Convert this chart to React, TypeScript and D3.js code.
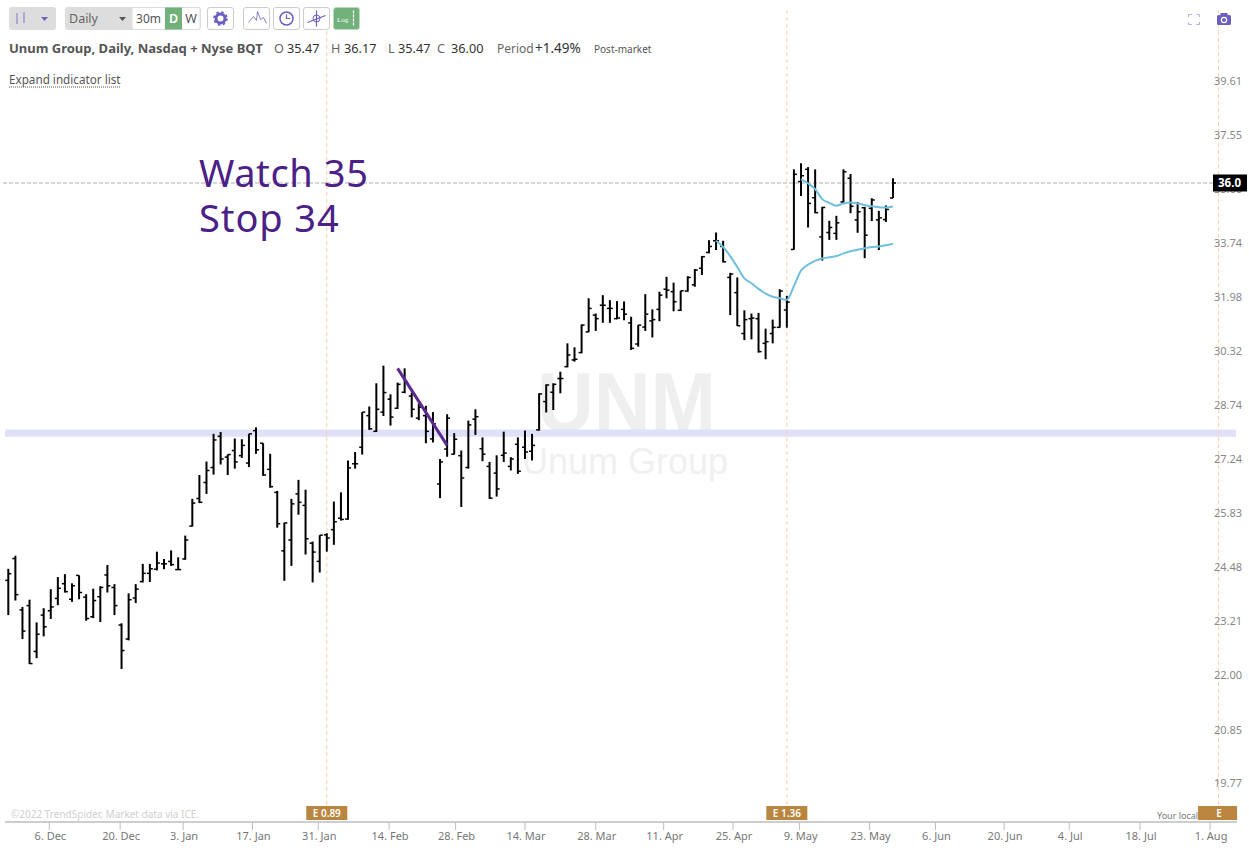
import React from "react";
import * as d3 from "d3";

const opens = [24.30,24.83,23.60,23.70,22.65,23.48,23.58,23.87,24.22,23.85,
24.42,23.90,23.44,23.91,24.43,24.13,23.25,22.93,23.88,24.27,
24.47,24.57,24.70,24.76,24.56,24.82,25.64,26.35,26.77,27.17,
28.02,27.45,27.63,27.49,27.29,28.18,27.83,27.12,26.51,25.02,
25.29,26.47,26.17,25.21,24.76,25.42,25.55,25.84,25.82,27.27,
27.72,28.60,28.16,28.70,29.07,28.81,29.27,29.16,28.53,28.60,
27.95,26.73,27.67,27.53,27.49,27.17,28.50,27.68,27.20,27.02,
27.50,27.20,27.80,27.72,27.61,28.20,29.00,29.27,29.67,30.02,
30.22,30.44,31.07,31.59,31.90,31.80,31.48,31.77,31.35,30.70,
31.22,31.41,31.77,32.41,32.33,31.74,32.35,32.55,33.09,33.61,
34.00,33.81,32.79,32.30,31.02,31.48,31.48,30.72,31.02,31.21,
31.75,33.71,36.05,36.49,35.48,34.13,34.28,34.25,35.33,36.17,
34.71,35.13,35.11,34.71,34.72,35.47];
const highs = [24.58,24.90,23.67,23.84,23.31,23.64,24.09,24.38,24.45,24.23,
24.42,23.97,24.10,24.16,24.67,24.21,23.29,23.99,24.21,24.70,
24.70,25.00,24.82,25.03,24.86,25.40,26.34,26.97,27.33,28.09,
28.14,27.52,27.96,27.94,28.09,28.27,27.83,27.54,26.55,25.73,
26.34,26.84,26.58,25.25,25.41,25.46,26.27,26.51,27.36,27.59,
28.70,28.86,29.53,30.05,29.21,29.55,29.97,29.26,28.95,28.88,
28.70,27.40,28.64,28.11,27.63,28.46,28.78,27.99,27.32,27.50,
28.15,27.45,27.99,28.18,28.09,29.24,29.50,29.53,29.87,30.72,
30.60,31.30,32.12,31.64,32.22,32.06,32.03,32.02,31.54,31.28,
32.25,31.77,32.33,32.81,32.62,32.36,32.83,33.06,33.49,34.02,
34.28,34.00,32.94,32.79,31.74,31.64,31.66,31.17,31.45,32.41,
32.20,36.49,36.71,36.57,36.49,35.16,34.68,34.85,36.49,36.32,
35.33,35.16,35.46,35.02,35.21,36.17];
const lows = [23.48,23.82,22.93,22.37,22.50,22.99,23.39,23.71,24.01,23.79,
23.85,23.35,23.41,23.32,24.01,23.48,22.26,22.90,23.76,24.25,
24.26,24.54,24.57,24.65,24.55,24.80,25.63,26.23,26.47,26.98,
27.25,26.97,27.14,27.43,27.18,27.54,26.95,26.63,25.60,24.29,
24.65,25.93,24.93,24.25,24.49,25.00,25.17,25.78,25.80,27.14,
27.52,28.20,28.14,28.59,28.32,28.79,29.24,28.55,28.47,27.83,
27.85,26.36,27.46,27.52,26.13,27.14,28.06,27.34,26.34,26.40,
27.32,27.09,27.00,27.40,27.36,28.18,28.69,28.76,29.24,30.00,
30.17,30.42,31.06,31.10,31.35,31.35,31.46,31.43,30.52,30.62,
31.10,30.90,31.40,32.12,31.71,31.72,32.33,32.49,32.87,33.58,
33.69,33.28,31.59,31.25,30.82,30.84,30.44,30.24,30.72,31.20,
31.20,33.70,35.54,34.45,34.94,33.34,34.03,34.03,35.31,34.94,
34.27,33.42,34.67,33.69,34.64,35.47];
const closes = [24.46,23.96,23.11,22.38,23.04,23.21,23.67,24.11,24.03,24.17,
24.01,23.40,23.82,24.13,24.17,23.70,22.67,23.84,24.09,24.47,
24.58,24.72,24.70,24.68,24.56,25.29,26.23,26.25,27.09,27.92,
27.40,27.52,27.32,27.77,28.09,27.65,26.97,26.66,25.70,25.72,
26.21,26.25,25.32,24.99,25.41,25.34,25.75,25.81,27.16,27.27,
28.70,28.23,28.78,29.26,28.56,29.50,29.58,28.78,28.84,28.16,
28.37,27.32,28.53,27.94,26.89,28.34,28.57,27.53,26.36,26.60,
27.56,27.40,27.07,27.59,27.77,29.22,29.48,29.50,29.67,30.37,
30.24,31.28,31.80,31.48,31.90,31.80,31.50,31.62,30.57,31.28,
31.62,31.45,32.22,32.38,32.01,32.36,32.79,33.03,33.47,33.81,
34.00,33.30,32.90,31.26,31.45,31.50,30.47,30.77,31.21,32.35,
32.00,36.31,36.26,35.28,34.96,35.14,34.45,34.61,36.40,35.18,
34.99,34.19,35.40,34.78,35.07,36.00];

const anchoredStart = 100;
const anchoredA = [34.00,33.79,33.49,33.13,32.76,32.60,32.42,32.27,32.17,32.12,32.07,32.51,33.01,33.21,33.33,33.41,33.45,33.49,33.58,33.65,33.70,33.75,33.79,33.81,33.85,33.90];
const anchoredBStart = 112;
const anchoredB = [36.13,35.99,35.78,35.43,35.30,35.20,35.28,35.31,35.28,35.22,35.18,35.15,35.14,35.17];

const trendBars = [55, 62];
const trendPrices = [29.97, 27.77];
const bandPrices = [28.21, 28.01];
const lastPrice = 36.0;

const priceTicks = [39.61,37.55,35.60,33.74,31.98,30.32,28.74,27.24,25.83,24.48,23.21,22.00,20.85,19.77];
const dateLabels = ["6. Dec","20. Dec","3. Jan","17. Jan","31. Jan","14. Feb","28. Feb","14. Mar","28. Mar","11. Apr","25. Apr","9. May","23. May","6. Jun","20. Jun","4. Jul","18. Jul","1. Aug"];
const dateBars = [5.8,15.8,24.7,34.5,43.8,53.8,63.2,73,83,92.6,102.4,111.8,121.7,131,140.7,149.9,159.9,169.8];
const earnings = [{ bar: 45, label: "E 0.89" }, { bar: 110, label: "E 1.36" }, { bar: 171, label: "E" }];

const FONT = "'Noto Sans', sans-serif";
const PURPLE = "#6a5fc1";
const GREEN = "#71b27a";

const x = d3.scaleLinear().domain([0, 125]).range([8.3, 893]);
const y = d3.scaleLog().domain([36, 22]).range([183, 183 + 1011 * Math.log(36 / 22)]);

const Btn = ({ bx, w, fill = "#fff", stroke = "#ccc", children }: any) => (
  <g transform={`translate(${bx},7.5)`}>
    <rect width={w} height={22} rx={2.5} fill={fill} stroke={stroke} />
    {children}
  </g>
);

export default function App() {
  const lineA = d3.line<number>().x((_, i) => x(anchoredStart + i)).y(d => y(d)).curve(d3.curveMonotoneX)(anchoredA)!;
  const lineB = d3.line<number>().x((_, i) => x(anchoredBStart + i)).y(d => y(d)).curve(d3.curveMonotoneX)(anchoredB)!;
  return (
    <svg width={1249} height={850} style={{ position: "absolute", left: 0, top: 0, background: "#fff", fontFamily: FONT }}>
      {/* watermark */}
      <text x={537} y={431} textLength={179} lengthAdjust="spacingAndGlyphs" fontFamily="'Liberation Sans', sans-serif" fontWeight={700} fontSize={84} fill="#efefef">UNM</text>
      <text x={625} y={474} textAnchor="middle" fontFamily="'Liberation Sans', sans-serif" fontSize={36} fill="#f0f0f0">Unum Group</text>

      {/* band */}
      <rect x={5} width={1231} y={y(bandPrices[0])} height={y(bandPrices[1]) - y(bandPrices[0])} fill="#e0e0fb" />

      {/* earnings verticals */}
      {earnings.map(e => (
        <line key={e.label} x1={x(e.bar)} x2={x(e.bar)} y1={10} y2={806} stroke="#fbd2a2" strokeDasharray="4 3" />
      ))}

      {/* last price line */}
      <line x1={3} x2={1213} y1={y(lastPrice)} y2={y(lastPrice)} stroke="#adadad" strokeDasharray="4 2" />

      {/* OHLC bars */}
      <g stroke="#000" fill="none">
        {highs.map((h, i) => (
          <g key={i}>
            <line x1={x(i)} x2={x(i)} y1={y(h)} y2={y(lows[i])} strokeWidth={2} />
            <line x1={x(i) - 3} x2={x(i)} y1={y(opens[i])} y2={y(opens[i])} strokeWidth={1.5} />
            <line x1={x(i)} x2={x(i) + 3} y1={y(closes[i])} y2={y(closes[i])} strokeWidth={1.5} />
          </g>
        ))}
      </g>

      {/* anchored lines */}
      <path d={lineA} fill="none" stroke="#6fc0de" strokeWidth={2} />
      <path d={lineB} fill="none" stroke="#6fc0de" strokeWidth={2} />

      {/* trend line */}
      <line x1={x(trendBars[0])} x2={x(trendBars[1])} y1={y(trendPrices[0])} y2={y(trendPrices[1])} stroke="#5b2a91" strokeWidth={3} />

      {/* annotation */}
      <text x={199} y={187} fontSize={38} letterSpacing={0.6} fill="#4b2087">Watch 35</text>
      <text x={199} y={232} fontSize={38} letterSpacing={0.9} fill="#4b2087">Stop 34</text>

      {/* price axis */}
      {priceTicks.map(t => (
        <text key={t} x={1214} y={y(t) - 5.4} dy="0.35em" fontSize={11} fill="#888">{t.toFixed(2)}</text>
      ))}
      <rect x={1213} y={y(lastPrice) - 8.5} width={34} height={17} fill="#000" />
      <text x={1229.5} y={y(lastPrice)} dy="0.35em" textAnchor="middle" fontSize={11.5} fontWeight={700} fill="#fff">{lastPrice.toFixed(1)}</text>

      {/* date axis */}
      <line x1={5} x2={1237} y1={822} y2={822} stroke="#bdbdbd" strokeWidth={1.5} />
      {dateLabels.map((d, i) => (
        <g key={d}>
          <line x1={x(dateBars[i])} x2={x(dateBars[i])} y1={822} y2={830} stroke="#bdbdbd" />
          <text x={x(dateBars[i]) + 1} y={836} dy="0.35em" textAnchor="middle" fontSize={11} fill="#777">{d}</text>
        </g>
      ))}
      <text x={11} y={818} fontSize={10} fill="#cfcfcf">©2022 TrendSpider, Market data via ICE.</text>
      <text x={1157} y={819} fontSize={9} fill="#777">Your local</text>
      {earnings.map(e => (
        <g key={e.label}>
          <rect x={x(e.bar) - 20.5} y={806} width={e.label === "E" ? 39 : 41} height={14} fill="#b9853f" />
          <text x={x(e.bar) + (e.label === "E" ? 0.5 : 0)} y={813} dy="0.35em" textAnchor="middle" fontSize={10} fontWeight={600} fill="#fff">{e.label}</text>
        </g>
      ))}

      {/* toolbar */}
      <rect x={9} y={7} width={47} height={23} rx={3} fill="#ddd" />
      <g stroke="#9d97cf" strokeWidth={1.5}>
        <line x1={17} x2={17} y1={13} y2={24} />
        <line x1={24} x2={24} y1={12} y2={23} />
      </g>
      <path d="M41,17 h7 l-3.5,4 z" fill={PURPLE} />
      <rect x={65} y={7} width={136} height={23} rx={3} fill="#ddd" />
      <rect x={132} y={7.5} width={68} height={22} rx={2} fill="#fff" stroke="#ddd" />
      <rect x={165} y={7.5} width={17} height={22} fill={GREEN} />
      <text x={69} y={23} fontSize={12.5} fill="#666">Daily</text>
      <path d="M119,17 h7 l-3.5,4 z" fill="#555" />
      <text x={148.5} y={23} fontSize={12} textAnchor="middle" fill="#555">30m</text>
      <text x={173.5} y={23} fontSize={12.5} textAnchor="middle" fontWeight={600} fill="#fff">D</text>
      <text x={191} y={23} fontSize={12.5} textAnchor="middle" fill="#555">W</text>

      <Btn bx={207.5} w={26}>
        <circle cx={13} cy={11} r={4.5} fill="none" stroke={PURPLE} strokeWidth={3} />
        <circle cx={13} cy={11} r={6.5} fill="none" stroke={PURPLE} strokeWidth={1.6} strokeDasharray="2.5 2.6" />
      </Btn>
      <Btn bx={243.5} w={26}>
        <path d="M5,15 L10,9 L13,13 L14,4 L17,12 L20,10 L23,16" fill="none" stroke={PURPLE} strokeWidth={0.8} />
      </Btn>
      <Btn bx={273.5} w={26}>
        <circle cx={13} cy={11} r={6.5} fill="none" stroke={PURPLE} strokeWidth={1.5} />
        <path d="M13,7 V11 H16.5" fill="none" stroke={PURPLE} strokeWidth={1.2} />
      </Btn>
      <Btn bx={303.5} w={26}>
        <path d="M4,15 L22,8 M13,3 V19" fill="none" stroke={PURPLE} strokeWidth={1.2} />
        <circle cx={13} cy={11} r={3.5} fill="none" stroke={PURPLE} strokeWidth={1} />
      </Btn>
      <Btn bx={333.5} w={26} fill={GREEN} stroke="#bcd9bf">
        <text x={3.5} y={14} fontSize={7} fontFamily="'Liberation Serif', serif" fill="#fff">Log</text>
        <path d="M20,3 V19" stroke="#fff" strokeDasharray="3 1" strokeWidth={1.2} />
      </Btn>

      {/* header line */}
      <text x={9} y={53} fontSize={13} fontWeight={700} fill="#555">Unum Group, Daily, Nasdaq + Nyse BQT</text>
      {[["O","35.47",274,287],["H","36.17",331,344],["L","35.47",388,398],["C","36.00",437,451]].map(([k,v,a,b]) => (
        <g key={k as string}>
          <text x={a as number} y={53} fontSize={12.7} fill="#666">{k}</text>
          <text x={b as number} y={53} fontSize={12.7} fill="#333">{v}</text>
        </g>
      ))}
      <text x={497} y={53} fontSize={12} fill="#666">Period</text>
      <text x={535} y={53} fontSize={13.5} fill="#333">+1.49%</text>
      <text x={594} y={53} fontSize={10} fill="#555">Post-market</text>
      <text x={9} y={84} fontSize={11.7} fill="#555">Expand indicator list</text>
      <line x1={9} x2={121} y1={87} y2={87} stroke="#555" strokeDasharray="1 1" />

      {/* top right icons */}
      <path d="M1188.5,17 V14.5 H1192 M1196.5,14.5 H1199.5 V17 M1199.5,22 V24.5 H1196.5 M1192,24.5 H1188.5 V22" fill="none" stroke="#b5b0e0" />
      <rect x={1217} y={15} width={14} height={10} rx={1.5} fill={PURPLE} />
      <rect x={1220.5} y={13} width={7} height={3} fill={PURPLE} />
      <circle cx={1224} cy={20} r={2.6} fill="none" stroke="#fff" strokeWidth={1.2} />
    </svg>
  );
}
